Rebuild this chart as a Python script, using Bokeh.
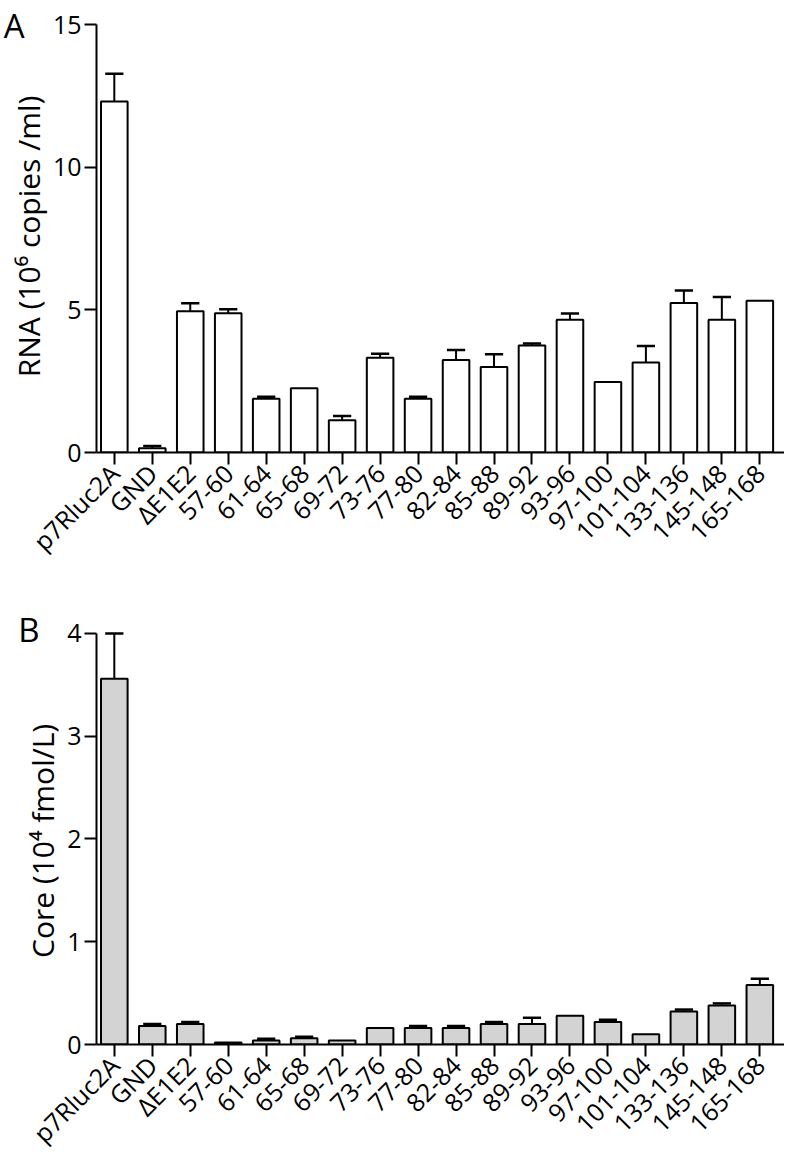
import math
from bokeh.plotting import figure
from bokeh.models import Range1d, FixedTicker, LinearAxis
from bokeh.layouts import column
from bokeh.embed import file_html
from bokeh.resources import INLINE

categories = ["p7Rluc2A", "GND", "ΔE1E2", "57-60", "61-64", "65-68", "69-72", "73-76",
              "77-80", "82-84", "85-88", "89-92", "93-96", "97-100", "101-104",
              "133-136", "145-148", "165-168"]
rna_mean = [12.3, 0.15, 4.95, 4.88, 1.88, 2.25, 1.13, 3.32, 1.88, 3.24, 3.0, 3.75,
            4.65, 2.47, 3.15, 5.24, 4.65, 5.32]
rna_err = [0.97, 0.08, 0.28, 0.14, 0.07, 0.0, 0.15, 0.14, 0.07, 0.35, 0.44, 0.07,
           0.22, 0.0, 0.58, 0.44, 0.80, 0.0]
core_mean = [3.56, 0.18, 0.20, 0.02, 0.04, 0.06, 0.04, 0.16, 0.16, 0.16, 0.20, 0.20,
             0.28, 0.22, 0.10, 0.32, 0.38, 0.58]
core_err = [0.44, 0.02, 0.02, 0.0, 0.015, 0.015, 0.0, 0.0, 0.02, 0.02, 0.02, 0.06,
            0.0, 0.02, 0.0, 0.02, 0.02, 0.06]
rna_ticks = [0, 5, 10, 15]
core_ticks = [0, 1, 2, 3, 4]

FONT = "Open Sans"


def make_panel(letter, vals, errs, ymax, yticks, ylabel, fill,
               height, fig_top, letter_y, top_tick_y, bottom_y):
    n = len(categories)
    xs = list(range(n))
    px_per_unit = (bottom_y - top_tick_y) / ymax
    yend = ymax + (top_tick_y - letter_y) / px_per_unit
    btop = letter_y - fig_top
    bbottom = fig_top + height - bottom_y
    p = figure(width=784, height=height, output_backend="svg", toolbar_location=None,
               x_range=Range1d(-0.469, 17.65), y_range=Range1d(0, yend),
               min_border_left=89, min_border_right=0,
               min_border_top=btop, min_border_bottom=bbottom)
    p.outline_line_color = None
    p.xgrid.visible = False
    p.ygrid.visible = False
    p.background_fill_color = "white"
    p.border_fill_color = "white"

    p.vbar(x=xs, top=vals, width=0.7, bottom=0, fill_color=fill,
           line_color="black", line_width=2)

    idx = [i for i, e in enumerate(errs) if e > 0]
    ex = [i for i in idx]
    ey0 = [vals[i] for i in idx]
    ey1 = [vals[i] + errs[i] for i in idx]
    p.segment(x0=ex, y0=ey0, x1=ex, y1=ey1, line_color="black", line_width=2)
    p.segment(x0=[x - 0.24 for x in ex], y0=ey1, x1=[x + 0.24 for x in ex], y1=ey1,
              line_color="black", line_width=2.5)

    for ax in (p.xaxis[0], p.yaxis[0]):
        ax.axis_line_width = 2
        ax.axis_line_color = "black"
        ax.major_tick_line_width = 2
        ax.major_tick_line_color = "black"
        ax.major_tick_out = 12
        ax.major_tick_in = 0
        ax.minor_tick_line_color = None
        ax.major_label_text_font = FONT
        ax.major_label_text_color = "black"

    p.yaxis.ticker = FixedTicker(ticks=yticks)
    p.yaxis.bounds = (0, ymax)
    p.yaxis.major_label_text_font_size = "25px"
    p.yaxis.major_label_standoff = 3
    p.yaxis.axis_label = ylabel
    p.yaxis.axis_label_text_font = FONT
    p.yaxis.axis_label_text_font_size = "30px"
    p.yaxis.axis_label_text_font_style = "normal"
    p.yaxis.axis_label_text_color = "black"
    p.yaxis.axis_label_standoff = 1

    p.xaxis.ticker = FixedTicker(ticks=xs)
    p.xaxis.major_label_overrides = {i: c for i, c in enumerate(categories)}
    p.xaxis.major_label_orientation = math.pi / 4
    p.xaxis.major_label_text_font_size = "25px"
    p.xaxis.major_label_standoff = 4

    # panel letter as a tick label of an invisible outer axis
    lax = LinearAxis(ticker=FixedTicker(ticks=[yend]),
                     major_label_overrides={yend: letter})
    lax.axis_line_color = None
    lax.major_tick_line_color = None
    lax.minor_tick_line_color = None
    lax.major_tick_out = 0
    lax.major_tick_in = 0
    lax.major_label_standoff = -20
    lax.major_label_text_font = FONT
    lax.major_label_text_font_size = "33px"
    lax.major_label_text_color = "black"
    p.add_layout(lax, "left")
    return p


pA = make_panel("A", rna_mean, rna_err, 15, rna_ticks, "RNA (10⁶ copies /ml)",
                "white", 575, 0, 20, 24, 452)
pB = make_panel("B", core_mean, core_err, 4, core_ticks, "Core (10⁴  fmol/L)",
                "#d3d3d3", 589, 575, 629, 633, 1047)

layout = column(pA, pB)
open("out.html", "w").write(file_html(layout, INLINE))
